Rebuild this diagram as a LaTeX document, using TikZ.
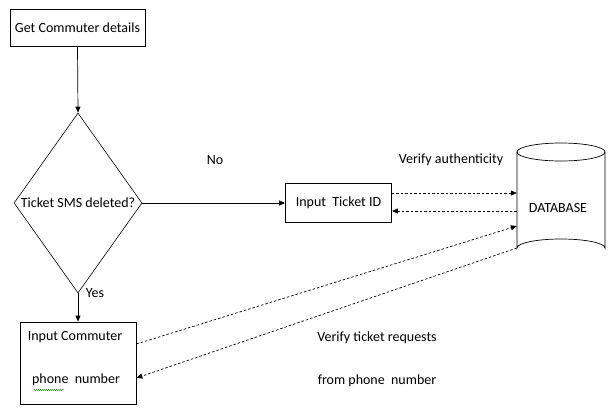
\documentclass[tikz,border=0pt]{standalone}
\usepackage{fontspec}
\setmainfont{Carlito}
\usetikzlibrary{shapes.geometric,arrows.meta,decorations.pathmorphing}
\begin{document}
\begin{tikzpicture}[x=1pt,y=-1pt,
  font=\fontsize{14}{16}\selectfont,
  box/.style={draw,line width=0.8pt,inner sep=0pt},
  lbl/.style={inner sep=0pt,anchor=center},
  solidarrow/.style={line width=0.7pt,-{Triangle[length=6pt,width=5pt]}},
  dasharrow/.style={line width=0.7pt,dash pattern=on 2.5pt off 2pt,-{Triangle[length=6pt,width=5pt]}}]
\useasboundingbox (0,0) rectangle (609,407);

% process boxes
\node[box,minimum width=135pt,minimum height=37pt] (get) at (77.5,27.5) {Get Commuter details};
\node[draw,line width=0.6pt,shape=diamond,minimum width=128pt,minimum height=180pt,inner sep=0pt] (dec) at (78,203) {};
\node[lbl] at (78,203) {Ticket SMS deleted?};
\node[box,minimum width=106pt,minimum height=39pt] (tid) at (338.5,203) {Input\ \ Ticket ID};
\node[box,minimum width=116pt,minimum height=82pt] (phone) at (78,363) {};
\node[lbl] (pl1) at (75,337) {Input Commuter};
\node[lbl] (pl2) at (76,380) {phone\ \ number};
\draw[green!55!black,line width=0.4pt,decoration={snake,amplitude=0.6pt,segment length=2pt},decorate]
  (34,390) -- (64,390);

% database cylinder
\node[minimum width=88pt,minimum height=115pt,inner sep=0pt] (db) at (561,200) {};
\draw[line width=0.7pt] (517,152) -- (517,248) arc[start angle=180,end angle=0,x radius=44pt,y radius=9pt] -- (605,152);
\draw[line width=0.7pt] (561,152) ellipse[x radius=44pt,y radius=9pt];
\node[lbl] at (558,208) {DATABASE};

% labels
\node[lbl] at (215,160) {No};
\node[lbl] at (95,293) {Yes};
\node[lbl] at (451,160) {Verify authenticity};
\node[lbl] at (377,338) {Verify ticket requests};
\node[lbl] at (377,381) {from phone\ \ number};

% solid flow
\draw[solidarrow] (get.south) -- (dec.north);
\draw[solidarrow] (dec.east) -- (tid.west);
\draw[solidarrow] (dec.south) -- (phone.north);

% dashed exchanges with the database
\coordinate (t1) at (tid.east |- 0,193);
\coordinate (t2) at (tid.east |- 0,211);
\coordinate (d1) at (db.west |- 0,193);
\coordinate (d2) at (db.west |- 0,211);
\coordinate (d3) at (db.west |- 0,226);
\coordinate (d4) at (db.west |- 0,248);
\coordinate (p1) at (phone.east |- 0,344);
\coordinate (p2) at (phone.east |- 0,378);
\draw[dasharrow] (t1) -- (d1);
\draw[dasharrow] (d2) -- (t2);
\draw[dasharrow] (p1) -- (d3);
\draw[dasharrow] (d4) -- (p2);
\end{tikzpicture}
\end{document}
